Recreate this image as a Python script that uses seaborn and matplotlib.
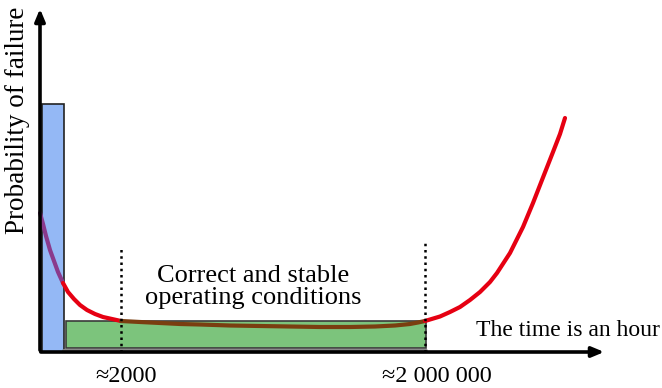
import numpy as np
import pandas as pd
import matplotlib
matplotlib.use("Agg")
import matplotlib.pyplot as plt
import seaborn as sns
from matplotlib.patches import Rectangle

# failure-rate ("bathtub") curve (x, height above axis)
burn_in_x = [40, 43, 46, 50, 54, 58, 63]
burn_in_y = [139, 128, 116, 102, 91, 80, 69]
early_x = [63, 68, 74, 80, 87, 95, 103, 112, 121]
early_y = [69, 60, 53, 47, 42, 38, 35, 33, 31]
stable_x = [121, 140, 160, 180, 200, 230, 260, 290, 320, 350, 375, 395, 410, 418, 425]
stable_y = [31, 30, 29, 28, 27.5, 26.5, 26, 25.5, 25, 25, 25.5, 26.5, 28, 29.5, 31]
wear_x = [425, 440, 450, 460, 470, 480, 490, 497, 510, 523, 533, 542, 553, 560, 565]
wear_y = [31, 35.5, 40, 45, 52, 60, 70, 79, 99, 125, 149, 172, 200, 218, 234]

# zones: (x0, x1, height)
infant_zone = (42, 64, 248)
stable_zone = (66, 426, 31)
marks = [121, 425]
mark_labels = ["\u22482000", "\u22482 000 000"]
label_x = [126, 437]

sns.set_theme(style="white")
plt.rcParams["font.family"] = ["Liberation Serif", "DejaVu Serif"]
plt.rcParams["text.color"] = "black"

fig = plt.figure(figsize=(6.62, 3.88), dpi=100)
ax = fig.add_axes([0, 0, 1, 1])
ax.set_xlim(0, 662)
ax.set_ylim(-36, 352)
ax.axis("off")

segs = [
    (burn_in_x, burn_in_y, "#8a3a8c"),
    (early_x, early_y, "#e60012"),
    (stable_x, stable_y, "#7a3e10"),
    (wear_x, wear_y, "#e60012"),
]

# rectangles first, curve on top
ax.add_patch(Rectangle((stable_zone[0], 4), stable_zone[1] - stable_zone[0], stable_zone[2] - 4,
                       facecolor="#7cc47c", edgecolor="#3a3a3a", lw=1.2, zorder=1))
ax.add_patch(Rectangle((infant_zone[0], 0), infant_zone[1] - infant_zone[0], infant_zone[2],
                       facecolor="#94b8f5", edgecolor="#222222", lw=1.2, zorder=1))
ax.plot([64, 426], [1.5, 1.5], color="#8a8a8a", lw=3, zorder=1)

for xs, ys, c in segs:
    df = pd.DataFrame({"x": xs, "y": ys})
    sns.lineplot(data=df, x="x", y="y", color=c, lw=3, ax=ax, sort=False,
                 solid_capstyle="round", solid_joinstyle="round", zorder=3)

for m, lab, lx, top in zip(marks, mark_labels, label_x, [105, 109]):
    ax.plot([m, m], [0, top], color="black", lw=1.8, ls=(0, (1, 1.5)), zorder=4)
    ax.text(lx, -25, lab, ha="center", va="center", fontsize=17.5)

# axes with arrows
ax.annotate("", xy=(607, 0), xytext=(38, 0),
            arrowprops=dict(arrowstyle="-|>,head_length=0.6,head_width=0.25", color="black", lw=2.6),
            zorder=5)
ax.annotate("", xy=(40, 346), xytext=(40, -1),
            arrowprops=dict(arrowstyle="-|>,head_length=0.6,head_width=0.25", color="black", lw=2.6),
            zorder=5)

ax.text(253, 65, "Correct and stable\noperating conditions", ha="center", va="center",
        fontsize=19, linespacing=1.0)
ax.text(568, 22, "The time is an hour", ha="center", va="center", fontsize=17)
ax.text(18, 232, "Probability of failure", ha="center", va="center", rotation=90, fontsize=19.5)

fig.savefig("out.png", dpi=100)
